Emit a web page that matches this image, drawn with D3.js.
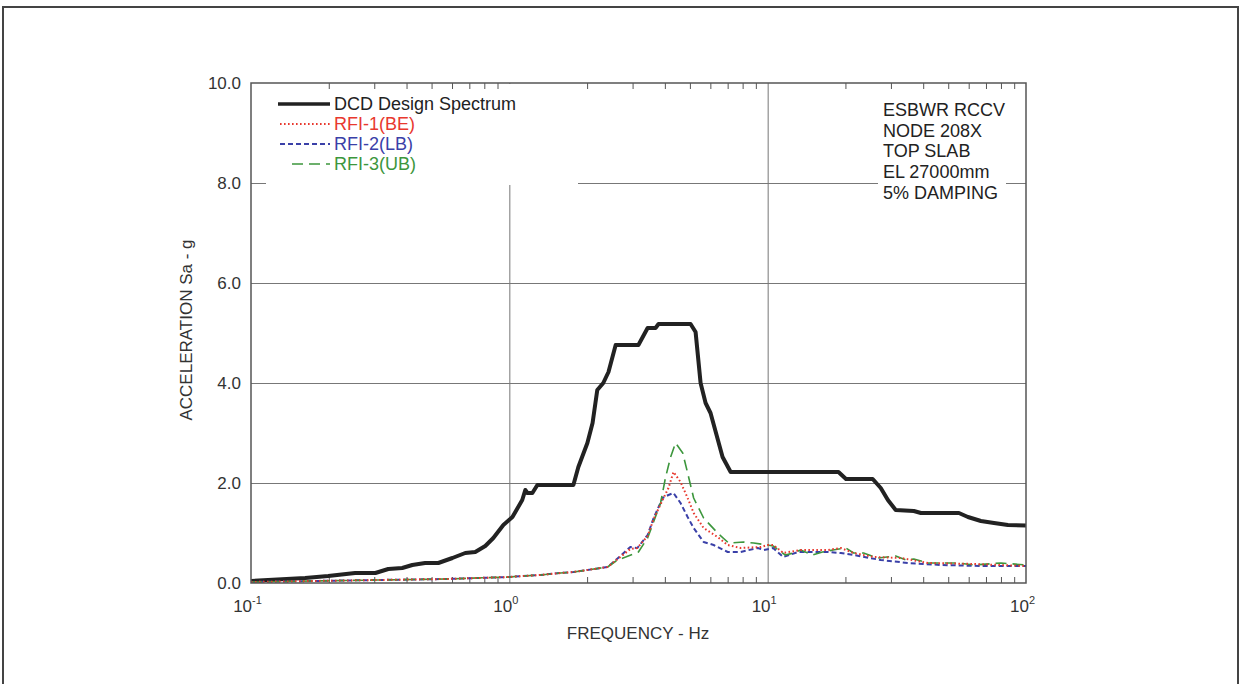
<!DOCTYPE html>
<html>
<head>
<meta charset="utf-8">
<script src="https://cdn.jsdelivr.net/npm/d3@7"></script>
<style>
  body { margin: 0; background: #fff; }
  svg { display: block; font-family: "Liberation Sans", Arial, sans-serif; }
</style>
</head>
<body>
<div id="chart"></div>
<script>
// DCD design spectrum (Hz, g)
var dcdFreq = [0.1, 0.162, 0.199, 0.253, 0.303, 0.34, 0.385, 0.421, 0.472, 0.531, 0.602, 0.675, 0.738, 0.807, 0.867, 0.948, 1.028, 1.122, 1.153, 1.175, 1.228, 1.284, 1.77, 1.85, 2.005, 2.10, 2.19, 2.31, 2.42, 2.58, 3.16, 3.43, 3.68, 3.78, 5.03, 5.26, 5.50, 5.75, 6.01, 6.69, 7.19, 18.8, 20.1, 25.5, 27.4, 29.2, 31.3, 36.8, 39.2, 55.0, 59.6, 66.9, 75.2, 85.1, 100];
var dcdAcc  = [0.04, 0.1, 0.14, 0.2, 0.2, 0.28, 0.3, 0.36, 0.4, 0.4, 0.5, 0.6, 0.62, 0.74, 0.9, 1.16, 1.32, 1.66, 1.86, 1.8, 1.8, 1.96, 1.96, 2.32, 2.8, 3.2, 3.86, 4.0, 4.22, 4.76, 4.76, 5.1, 5.1, 5.18, 5.18, 5.02, 4.0, 3.6, 3.4, 2.52, 2.22, 2.22, 2.08, 2.08, 1.9, 1.66, 1.46, 1.44, 1.4, 1.4, 1.32, 1.24, 1.2, 1.16, 1.15];

// RFI-1 (BE)
var rfi1Freq = [0.1, 0.172, 0.311, 0.565, 1.0, 1.122, 1.318, 1.577, 1.77, 2.005, 2.40, 2.69, 2.94, 3.13, 3.43, 3.62, 3.92, 4.13, 4.32, 4.60, 4.90, 5.17, 5.65, 6.40, 7.00, 7.86, 9.40, 10.0, 10.5, 11.5, 13.4, 17.1, 19.2, 21.5, 25.8, 32.8, 41.7, 62.9, 100];
var rfi1Acc  = [0.02, 0.04, 0.06, 0.08, 0.12, 0.14, 0.16, 0.2, 0.22, 0.26, 0.32, 0.52, 0.68, 0.7, 0.94, 1.28, 1.66, 1.9, 2.22, 2.02, 1.7, 1.4, 1.1, 0.92, 0.76, 0.7, 0.72, 0.76, 0.76, 0.6, 0.66, 0.66, 0.7, 0.6, 0.52, 0.5, 0.4, 0.38, 0.34];

// RFI-2 (LB)
var rfi2Freq = [0.1, 0.172, 0.311, 0.565, 1.0, 1.122, 1.318, 1.577, 1.77, 2.005, 2.40, 2.69, 2.94, 3.13, 3.43, 3.62, 3.92, 4.13, 4.32, 4.60, 4.90, 5.17, 5.65, 6.18, 7.00, 7.86, 9.15, 9.65, 10.5, 11.5, 13.1, 17.1, 19.2, 21.5, 27.4, 34.9, 46.9, 66.9, 100];
var rfi2Acc  = [0.02, 0.04, 0.06, 0.08, 0.12, 0.14, 0.16, 0.2, 0.22, 0.26, 0.32, 0.54, 0.72, 0.7, 0.96, 1.3, 1.7, 1.76, 1.8, 1.6, 1.32, 1.1, 0.82, 0.76, 0.62, 0.62, 0.7, 0.66, 0.7, 0.52, 0.62, 0.62, 0.6, 0.56, 0.46, 0.4, 0.36, 0.34, 0.34];

// RFI-3 (UB)
var rfi3Freq = [0.1, 0.172, 0.311, 0.565, 1.0, 1.122, 1.318, 1.577, 1.77, 2.005, 2.40, 2.62, 2.82, 3.16, 3.43, 3.85, 4.02, 4.21, 4.40, 4.69, 4.90, 5.17, 5.65, 6.40, 7.06, 8.07, 8.83, 10.0, 10.5, 11.7, 12.6, 13.4, 14.9, 16.3, 17.9, 20.1, 21.5, 23.5, 26.7, 31.3, 34.3, 36.8, 41.7, 54.5, 62.9, 80.0, 100];
var rfi3Acc  = [0.02, 0.04, 0.06, 0.08, 0.12, 0.14, 0.16, 0.2, 0.22, 0.26, 0.32, 0.46, 0.52, 0.62, 0.9, 1.6, 2.1, 2.52, 2.8, 2.6, 2.2, 1.7, 1.3, 1.0, 0.8, 0.82, 0.8, 0.76, 0.74, 0.56, 0.6, 0.66, 0.56, 0.62, 0.66, 0.7, 0.6, 0.6, 0.5, 0.54, 0.46, 0.48, 0.4, 0.4, 0.36, 0.4, 0.36];

var xMajor = [0.1, 1, 10, 100];
var xExp = ["-1", "0", "1", "2"];
var yTicks = [0, 2, 4, 6, 8, 10];
var legendNames = ["DCD Design Spectrum", "RFI-1(BE)", "RFI-2(LB)", "RFI-3(UB)"];
var noteLines = ["ESBWR RCCV", "NODE 208X", "TOP SLAB", "EL 27000mm", "5% DAMPING"];

var W = 1242, H = 684;
var L = 251, R = 1026, T = 83, B = 583;

var svg = d3.select("#chart").append("svg")
  .attr("width", W)
  .attr("height", H);

// outer page frame
svg.append("rect")
  .attr("x", 3).attr("y", 7)
  .attr("width", 1235).attr("height", 700)
  .attr("fill", "none")
  .attr("stroke", "#444")
  .attr("stroke-width", 2);

var x = d3.scaleLog().domain([0.1, 100]).range([L, R]);
var y = d3.scaleLinear().domain([0, 10]).range([B, T]);

var minors = [];
[0.1, 1, 10].forEach(function(d) {
  for (var k = 2; k <= 9; k++) minors.push(d * k);
});

// grid
var gx = svg.append("g")
  .attr("transform", "translate(0," + B + ")")
  .call(d3.axisBottom(x).tickValues([1, 10]).tickSize(-(B - T)).tickFormat(""));
var gy = svg.append("g")
  .attr("transform", "translate(" + L + ",0)")
  .call(d3.axisLeft(y).tickValues([2, 4, 6, 8]).tickSize(-(R - L)).tickFormat(""));
[gx, gy].forEach(function(g) {
  g.select(".domain").remove();
  g.selectAll("line").attr("stroke", "#777").attr("stroke-width", 1);
});

// white boxes behind legend and note
svg.append("rect").attr("x", 266).attr("y", T + 1).attr("width", 312).attr("height", 101).attr("fill", "#fff");
svg.append("rect").attr("x", 878).attr("y", T + 1).attr("width", 128).attr("height", 120).attr("fill", "#fff");

// minor ticks top and bottom (inward)
var mb = svg.append("g")
  .attr("transform", "translate(0," + B + ")")
  .call(d3.axisBottom(x).tickValues(minors).tickSize(-6).tickFormat(""));
var mt = svg.append("g")
  .attr("transform", "translate(0," + T + ")")
  .call(d3.axisTop(x).tickValues(minors).tickSize(-6).tickFormat(""));
[mb, mt].forEach(function(g) {
  g.select(".domain").remove();
  g.selectAll("line").attr("stroke", "#555");
});

// curves
var line = d3.line()
  .x(function(d) { return x(d[0]); })
  .y(function(d) { return y(d[1]); });

function pairs(f, a) { return f.map(function(v, i) { return [v, a[i]]; }); }

var series = [
  { data: pairs(dcdFreq, dcdAcc), color: "#222", width: 4, dash: null },
  { data: pairs(rfi2Freq, rfi2Acc), color: "#3a40a8", width: 2, dash: "5,3" },
  { data: pairs(rfi3Freq, rfi3Acc), color: "#3c963c", width: 1.6, dash: "11,6" },
  { data: pairs(rfi1Freq, rfi1Acc), color: "#e8382e", width: 2, dash: "1.6,2.4" }
];

series.forEach(function(s) {
  svg.append("path")
    .attr("d", line(s.data))
    .attr("fill", "none")
    .attr("stroke", s.color)
    .attr("stroke-width", s.width)
    .attr("stroke-linejoin", "round")
    .attr("stroke-dasharray", s.dash);
});

// plot frame
svg.append("rect")
  .attr("x", L).attr("y", T)
  .attr("width", R - L).attr("height", B - T)
  .attr("fill", "none")
  .attr("stroke", "#555")
  .attr("stroke-width", 1.5);

// y tick labels
var ya = svg.append("g")
  .attr("transform", "translate(" + L + ",0)")
  .call(d3.axisLeft(y).tickValues(yTicks).tickSize(0).tickPadding(10).tickFormat(d3.format(".1f")));
ya.select(".domain").remove();
ya.selectAll("text")
  .attr("font-size", "17px")
  .attr("font-family", "Liberation Sans, Arial, sans-serif")
  .attr("fill", "#333");

// x tick labels with superscripts
var xa = svg.append("g")
  .attr("transform", "translate(0," + B + ")")
  .call(d3.axisBottom(x).tickValues(xMajor).tickSize(0).tickFormat(""));
xa.select(".domain").remove();
xa.selectAll(".tick").each(function(d, i) {
  var t = d3.select(this).select("text")
    .attr("y", 29)
    .attr("dy", null)
    .attr("x", -4)
    .attr("font-size", "17px")
    .attr("font-family", "Liberation Sans, Arial, sans-serif")
    .attr("fill", "#333");
  t.append("tspan").text("10");
  t.append("tspan").attr("font-size", "11px").attr("dy", -8).text(xExp[i]);
});

// axis titles
svg.append("text")
  .attr("x", 638).attr("y", 639)
  .attr("text-anchor", "middle")
  .attr("font-size", "17px")
  .attr("fill", "#333")
  .text("FREQUENCY - Hz");

svg.append("text")
  .attr("transform", "translate(192,330) rotate(-90)")
  .attr("text-anchor", "middle")
  .attr("font-size", "17px")
  .attr("fill", "#333")
  .text("ACCELERATION Sa - g");

// legend
var legendColors = ["#222", "#e8382e", "#3a40a8", "#3c963c"];
var legendDash = [null, "1.6,2.4", "5,3", "11,6"];
var legendWidth = [3.5, 2, 2, 1.6];
var legendX1 = [278, 280, 280, 292];
legendNames.forEach(function(name, i) {
  var cy = 104 + i * 20;
  svg.append("line")
    .attr("x1", legendX1[i]).attr("x2", 330)
    .attr("y1", cy).attr("y2", cy)
    .attr("stroke", legendColors[i])
    .attr("stroke-width", legendWidth[i])
    .attr("stroke-dasharray", legendDash[i]);
  svg.append("text")
    .attr("x", 334).attr("y", cy + 6)
    .attr("font-size", "18px")
    .attr("fill", i === 0 ? "#222" : legendColors[i])
    .text(name);
});

// note
noteLines.forEach(function(s, i) {
  svg.append("text")
    .attr("x", 883).attr("y", 116 + i * 20.7)
    .attr("font-size", "18px")
    .attr("fill", "#222")
    .text(s);
});
</script>
</body>
</html>
